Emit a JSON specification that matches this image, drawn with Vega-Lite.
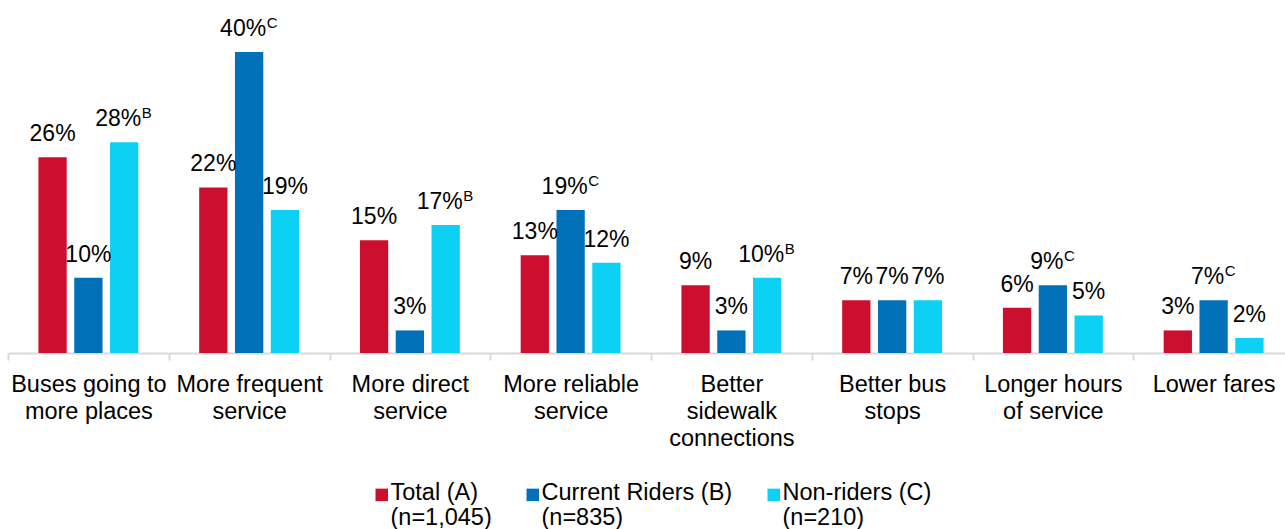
{
  "$schema": "https://vega.github.io/schema/vega-lite/v6.json",
  "width": 1277,
  "height": 301,
  "autosize": {"type": "none"},
  "padding": {"left": 8, "top": 52, "right": 0, "bottom": 176},
  "background": "white",
  "config": {
    "view": {"stroke": null},
    "font": "Liberation Sans",
    "text": {"font": "Liberation Sans", "color": "#000000"}
  },
  "data": {
    "values": [
      {"cat": "Buses going to|more places", "series": "Total (A)|(n=1,045)", "value": 26, "label": "26%", "sup": ""},
      {"cat": "Buses going to|more places", "series": "Current Riders (B)|(n=835)", "value": 10, "label": "10%", "sup": ""},
      {"cat": "Buses going to|more places", "series": "Non-riders (C)|(n=210)", "value": 28, "label": "28%", "sup": "B"},
      {"cat": "More frequent|service", "series": "Total (A)|(n=1,045)", "value": 22, "label": "22%", "sup": ""},
      {"cat": "More frequent|service", "series": "Current Riders (B)|(n=835)", "value": 40, "label": "40%", "sup": "C"},
      {"cat": "More frequent|service", "series": "Non-riders (C)|(n=210)", "value": 19, "label": "19%", "sup": ""},
      {"cat": "More direct|service", "series": "Total (A)|(n=1,045)", "value": 15, "label": "15%", "sup": ""},
      {"cat": "More direct|service", "series": "Current Riders (B)|(n=835)", "value": 3, "label": "3%", "sup": ""},
      {"cat": "More direct|service", "series": "Non-riders (C)|(n=210)", "value": 17, "label": "17%", "sup": "B"},
      {"cat": "More reliable|service", "series": "Total (A)|(n=1,045)", "value": 13, "label": "13%", "sup": ""},
      {"cat": "More reliable|service", "series": "Current Riders (B)|(n=835)", "value": 19, "label": "19%", "sup": "C"},
      {"cat": "More reliable|service", "series": "Non-riders (C)|(n=210)", "value": 12, "label": "12%", "sup": ""},
      {"cat": "Better|sidewalk|connections", "series": "Total (A)|(n=1,045)", "value": 9, "label": "9%", "sup": ""},
      {"cat": "Better|sidewalk|connections", "series": "Current Riders (B)|(n=835)", "value": 3, "label": "3%", "sup": ""},
      {"cat": "Better|sidewalk|connections", "series": "Non-riders (C)|(n=210)", "value": 10, "label": "10%", "sup": "B"},
      {"cat": "Better bus|stops", "series": "Total (A)|(n=1,045)", "value": 7, "label": "7%", "sup": ""},
      {"cat": "Better bus|stops", "series": "Current Riders (B)|(n=835)", "value": 7, "label": "7%", "sup": ""},
      {"cat": "Better bus|stops", "series": "Non-riders (C)|(n=210)", "value": 7, "label": "7%", "sup": ""},
      {"cat": "Longer hours|of service", "series": "Total (A)|(n=1,045)", "value": 6, "label": "6%", "sup": ""},
      {"cat": "Longer hours|of service", "series": "Current Riders (B)|(n=835)", "value": 9, "label": "9%", "sup": "C"},
      {"cat": "Longer hours|of service", "series": "Non-riders (C)|(n=210)", "value": 5, "label": "5%", "sup": ""},
      {"cat": "Lower fares", "series": "Total (A)|(n=1,045)", "value": 3, "label": "3%", "sup": ""},
      {"cat": "Lower fares", "series": "Current Riders (B)|(n=835)", "value": 7, "label": "7%", "sup": "C"},
      {"cat": "Lower fares", "series": "Non-riders (C)|(n=210)", "value": 2, "label": "2%", "sup": ""}
    ]
  },
  "encoding": {
    "x": {
      "field": "cat",
      "type": "nominal",
      "sort": null,
      "scale": {"range": [0, 1286], "paddingInner": 0, "paddingOuter": 0},
      "axis": {
        "title": null,
        "labelAngle": 0,
        "labelExpr": "split(datum.label, '|')",
        "labelFont": "Liberation Sans",
        "labelFontSize": 23.5,
        "labelColor": "#000000",
        "labelLineHeight": 27,
        "labelBaseline": "top",
        "labelPadding": 12,
        "labelOverlap": false,
        "labelBound": false,
        "labelFlush": false,
        "domainColor": "#D9D9D9",
        "domainWidth": 2,
        "tickColor": "#D9D9D9",
        "tickWidth": 2,
        "tickSize": 7,
        "tickBand": "extent",
        "grid": false
      }
    },
    "xOffset": {
      "field": "series",
      "type": "nominal",
      "sort": null,
      "scale": {"domain": ["Total (A)|(n=1,045)", "Current Riders (B)|(n=835)", "Non-riders (C)|(n=210)"], "paddingInner": 0.21, "paddingOuter": 0.85}
    },
    "y": {
      "field": "value",
      "type": "quantitative",
      "scale": {"domain": [0, 40], "nice": false, "zero": true},
      "axis": null
    }
  },
  "layer": [
    {
      "mark": {"type": "bar"},
      "encoding": {
        "color": {
          "field": "series",
          "type": "nominal",
          "scale": {
            "domain": ["Total (A)|(n=1,045)", "Current Riders (B)|(n=835)", "Non-riders (C)|(n=210)"],
            "range": ["#CC0F2E", "#0070B8", "#0CD1F5"]
          },
          "legend": {
            "title": null,
            "orient": "none",
            "direction": "horizontal",
            "legendX": 362,
            "legendY": 436,
            "padding": 0,
            "labelExpr": "split(datum.label, '|')",
            "labelFont": "Liberation Sans",
            "labelFontSize": 23.5,
            "labelColor": "#000000",
            "labelLineHeight": 22.5,
            "labelBaseline": "alphabetic",
            "labelOffset": -3,
            "labelLimit": 400,
            "columnPadding": 29,
            "symbolType": "M-1,-1.8L1,-1.8L1,0.2L-1,0.2Z",
            "symbolSize": 156,
            "symbolStrokeWidth": 0
          }
        }
      }
    },
    {
      "transform": [{"filter": "datum.sup == ''"}],
      "mark": {"type": "text", "dy": -16, "align": "center", "baseline": "alphabetic", "fontSize": 23, "font": "Liberation Sans", "color": "#000000"},
      "encoding": {"text": {"field": "label"}}
    },
    {
      "transform": [{"filter": "datum.sup != ''"}],
      "mark": {"type": "text", "dy": -16, "dx": -6, "align": "center", "baseline": "alphabetic", "fontSize": 23, "font": "Liberation Sans", "color": "#000000"},
      "encoding": {"text": {"field": "label"}}
    },
    {
      "transform": [{"filter": "datum.sup != '' && datum.value >= 10"}],
      "mark": {"type": "text", "dy": -24, "dx": 17.5, "align": "left", "baseline": "alphabetic", "fontSize": 15, "font": "Liberation Sans", "color": "#000000"},
      "encoding": {"text": {"field": "sup"}}
    },
    {
      "transform": [{"filter": "datum.sup != '' && datum.value < 10"}],
      "mark": {"type": "text", "dy": -24, "dx": 11, "align": "left", "baseline": "alphabetic", "fontSize": 15, "font": "Liberation Sans", "color": "#000000"},
      "encoding": {"text": {"field": "sup"}}
    }
  ]
}
